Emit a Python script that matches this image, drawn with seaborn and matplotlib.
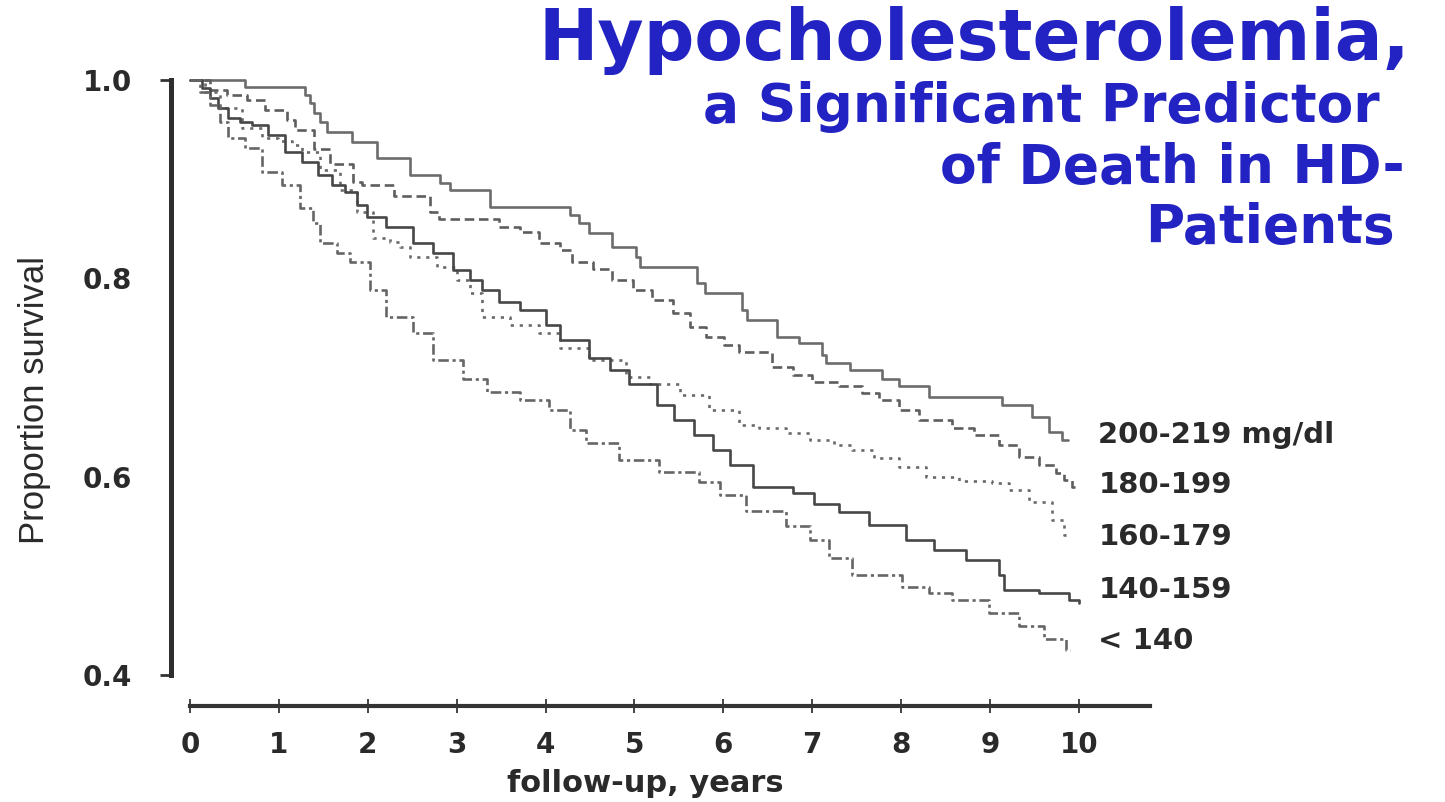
import matplotlib
matplotlib.use("Agg")
import matplotlib.pyplot as plt
import matplotlib.ticker as mticker
import pandas as pd
import seaborn as sns

# Kaplan-Meier survival by serum cholesterol group (step points: years, proportion surviving)
groups = ["200-219 mg/dl", "180-199", "160-179", "140-159", "< 140"]

t_200_219 = [0, 0.62, 1.29, 1.35, 1.40, 1.46, 1.54, 1.82, 2.10, 2.47, 2.81, 2.92, 3.37, 4.27,
             4.38, 4.49, 4.75, 5.02, 5.06, 5.70, 5.79, 6.21, 6.27, 6.60, 6.85, 7.11, 7.16, 7.42,
             7.79, 7.98, 8.31, 9.13, 9.47, 9.66, 9.81, 9.88]
s_200_219 = [1.000, 0.993, 0.985, 0.977, 0.967, 0.958, 0.948, 0.937, 0.921, 0.904, 0.896, 0.889,
             0.872, 0.864, 0.856, 0.846, 0.832, 0.822, 0.811, 0.795, 0.785, 0.768, 0.758, 0.741,
             0.735, 0.723, 0.715, 0.708, 0.698, 0.691, 0.680, 0.672, 0.660, 0.645, 0.637, 0.637]

t_180_199 = [0, 0.22, 0.42, 0.64, 0.84, 1.09, 1.18, 1.40, 1.57, 1.83, 1.94, 2.30, 2.70, 2.80,
             3.48, 3.71, 3.93, 4.16, 4.30, 4.53, 4.75, 4.98, 5.20, 5.43, 5.62, 5.81, 6.01, 6.18,
             6.55, 6.78, 7.00, 7.30, 7.56, 7.75, 7.98, 8.20, 8.57, 8.82, 9.10, 9.33, 9.55, 9.74,
             9.83, 9.92, 9.97]
s_180_199 = [1.000, 0.990, 0.985, 0.980, 0.970, 0.960, 0.950, 0.930, 0.915, 0.897, 0.894, 0.883,
             0.867, 0.860, 0.852, 0.847, 0.836, 0.829, 0.816, 0.809, 0.798, 0.788, 0.778, 0.765,
             0.751, 0.741, 0.733, 0.726, 0.711, 0.703, 0.695, 0.691, 0.684, 0.677, 0.667, 0.657,
             0.649, 0.642, 0.632, 0.620, 0.612, 0.604, 0.597, 0.590, 0.590]

t_160_179 = [0, 0.17, 0.34, 0.58, 0.81, 0.99, 1.15, 1.26, 1.46, 1.69, 1.88, 2.06, 2.25, 2.36,
             2.47, 2.78, 3.00, 3.15, 3.29, 3.60, 3.93, 4.16, 4.49, 4.91, 5.17, 5.51, 5.84, 6.18,
             6.40, 6.71, 6.97, 7.25, 7.45, 7.70, 7.98, 8.28, 8.65, 9.02, 9.21, 9.44, 9.70, 9.83,
             9.86]
s_160_179 = [1.000, 0.988, 0.972, 0.952, 0.942, 0.938, 0.934, 0.927, 0.909, 0.889, 0.867, 0.841,
             0.837, 0.832, 0.822, 0.811, 0.798, 0.785, 0.761, 0.753, 0.745, 0.730, 0.718, 0.701,
             0.693, 0.682, 0.667, 0.652, 0.649, 0.644, 0.637, 0.632, 0.627, 0.619, 0.610, 0.600,
             0.596, 0.594, 0.587, 0.574, 0.556, 0.541, 0.541]

t_140_159 = [0, 0.13, 0.22, 0.31, 0.43, 0.56, 0.70, 0.88, 1.07, 1.26, 1.44, 1.60, 1.74, 1.88,
             1.99, 2.21, 2.51, 2.73, 2.96, 3.15, 3.29, 3.48, 3.71, 4.01, 4.16, 4.49, 4.72, 4.94,
             5.25, 5.45, 5.67, 5.88, 6.07, 6.33, 6.78, 7.02, 7.30, 7.64, 8.06, 8.37, 8.73, 9.10,
             9.16, 9.55, 9.89, 10.0]
s_140_159 = [1.000, 0.992, 0.982, 0.972, 0.962, 0.958, 0.955, 0.945, 0.927, 0.917, 0.904, 0.894,
             0.887, 0.874, 0.862, 0.852, 0.836, 0.826, 0.808, 0.798, 0.788, 0.776, 0.768, 0.753,
             0.738, 0.720, 0.708, 0.693, 0.672, 0.657, 0.642, 0.627, 0.612, 0.590, 0.584, 0.572,
             0.564, 0.551, 0.536, 0.526, 0.516, 0.501, 0.486, 0.483, 0.476, 0.473]

t_lt140 = [0, 0.11, 0.22, 0.34, 0.43, 0.62, 0.81, 1.03, 1.24, 1.38, 1.46, 1.65, 1.80, 2.02,
           2.21, 2.51, 2.73, 3.07, 3.34, 3.71, 4.04, 4.27, 4.46, 4.83, 5.28, 5.73, 5.96, 6.26,
           6.71, 6.97, 7.19, 7.45, 8.01, 8.31, 8.57, 8.99, 9.33, 9.61, 9.85, 9.90]
s_lt140 = [1.000, 0.988, 0.975, 0.958, 0.942, 0.931, 0.907, 0.894, 0.871, 0.856, 0.836, 0.826,
           0.816, 0.788, 0.761, 0.745, 0.718, 0.698, 0.685, 0.677, 0.667, 0.647, 0.634, 0.617,
           0.605, 0.595, 0.582, 0.565, 0.550, 0.536, 0.518, 0.501, 0.489, 0.483, 0.476, 0.463,
           0.449, 0.436, 0.425, 0.425]

# vertical position of each end-of-curve label
label_y = [0.642, 0.592, 0.539, 0.486, 0.434]

x_ticks = list(range(0, 11))
y_ticks = [0.4, 0.6, 0.8, 1.0]

title_main = "Hypocholesterolemia,"
title_lines = ["a Significant Predictor", "of Death in HD-", "Patients"]

series = {
    groups[0]: (t_200_219, s_200_219),
    groups[1]: (t_180_199, s_180_199),
    groups[2]: (t_160_179, s_160_179),
    groups[3]: (t_140_159, s_140_159),
    groups[4]: (t_lt140, s_lt140),
}
frames = [pd.DataFrame({"years": t, "survival": s, "group": g}) for g, (t, s) in series.items()]
df = pd.concat(frames, ignore_index=True)

sns.set_theme(style="white")
plt.rcParams["font.family"] = ["DejaVu Sans"]

palette = {groups[0]: "#6c6c6c", groups[1]: "#5e5e5e", groups[2]: "#6a6a6a",
           groups[3]: "#474747", groups[4]: "#666666"}
dashes = {groups[0]: "", groups[1]: (3.6, 1.8), groups[2]: (1.2, 2.2),
          groups[3]: "", groups[4]: (4.0, 1.4, 1.2, 1.4)}

fig = plt.figure(figsize=(14.45, 8.02), dpi=100)
ax = fig.add_axes([190 / 1445, 1 - 675 / 802, 960 / 1445, 595 / 802])

sns.lineplot(data=df, x="years", y="survival", hue="group", style="group",
             palette=palette, dashes=dashes, estimator=None, sort=False,
             drawstyle="steps-post", linewidth=1.9, legend=False, ax=ax, clip_on=False)

ax.set_xlim(0, 10.8)
ax.set_ylim(0.4, 1.0)
ax.set_xticks(x_ticks)
ax.set_yticks(y_ticks)
ax.yaxis.set_major_formatter(mticker.FormatStrFormatter("%.1f"))
ax.set_xlabel("")
ax.set_ylabel("")

sns.despine(ax=ax, offset={"left": 14, "bottom": 22})
ax.spines["left"].set_linewidth(3.6)
ax.spines["left"].set_color("#2e2e2e")
ax.spines["bottom"].set_linewidth(3.0)
ax.spines["bottom"].set_color("#333333")

ax.tick_params(axis="x", bottom=True, direction="inout", length=10, width=1.4,
               color="#444444", pad=13, labelsize=20, labelcolor="#2a2a2a")
ax.tick_params(axis="y", left=True, direction="out", length=8, width=2.0, color="#333333",
               pad=20, labelsize=20, labelcolor="#2a2a2a")
for lab in ax.get_xticklabels() + ax.get_yticklabels():
    lab.set_fontweight("bold")
for tk in ax.yaxis.get_major_ticks()[1:3]:
    tk.tick1line.set_visible(False)

for g, yv in zip(groups, label_y):
    ax.text(10.22, yv, g, ha="left", va="center", fontsize=21, fontweight="bold",
            color="#2a2a2a", clip_on=False)

fig.text(35 / 1445, 1 - 400 / 802, "Proportion survival", rotation=90, ha="center",
         va="center", fontsize=25, family="Liberation Sans", color="#2a2a2a")
fig.text(645 / 1445, 1 - 783 / 802, "follow-up, years", ha="center", va="center",
         fontsize=22, fontweight="bold", color="#2a2a2a")

blue = "#2323c3"
fig.text(1410 / 1445, 1 - 60 / 802, title_main, ha="right", va="baseline",
         fontsize=51, fontweight="bold", color=blue)
for line, x_right, base in zip(title_lines, [1380, 1405, 1395], [122, 183, 243]):
    fig.text(x_right / 1445, 1 - base / 802, line, ha="right", va="baseline",
             fontsize=38.5, fontweight="bold", color=blue)

fig.savefig("out.png", dpi=100, facecolor="white")
